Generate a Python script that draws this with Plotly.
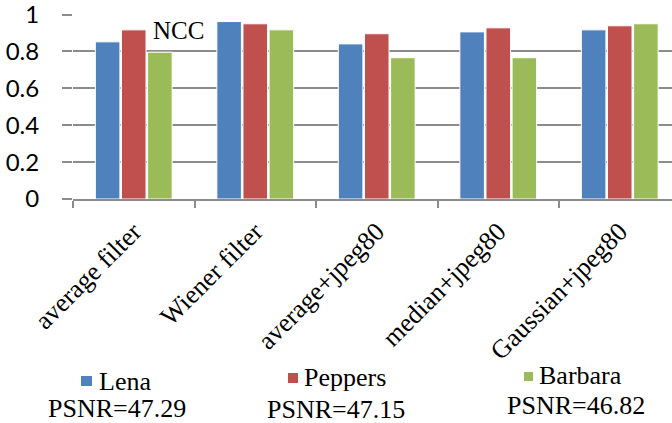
import plotly.graph_objects as go

categories = ["average filter", "Wiener filter", "average+jpeg80", "median+jpeg80", "Gaussian+jpeg80"]
series_names = ["Lena", "Peppers", "Barbara"]
psnr_labels = ["PSNR=47.29", "PSNR=47.15", "PSNR=46.82"]
lena = [0.852, 0.962, 0.841, 0.906, 0.917]
peppers = [0.917, 0.950, 0.896, 0.928, 0.939]
barbara = [0.796, 0.917, 0.766, 0.766, 0.950]
colors = ["#4F81BD", "#C0504D", "#9BBB59"]
y_ticks = [0, 0.2, 0.4, 0.6, 0.8, 1.0]
y_ticktext = ["0", "0.2", "0.4", "0.6", "0.8", "1"]

W, H = 672, 423
L, R, T, B = 73, 0, 14, 224
pw, ph = W - L - R, H - T - B

def px(x):
    return (x - L) / pw

def py(y):
    return (H - B - y) / ph

fig = go.Figure()
for name, vals, col in zip(series_names, [lena, peppers, barbara], colors):
    fig.add_trace(go.Bar(x=categories, y=vals, name=name,
                         marker=dict(color=col, line=dict(color="white", width=1))))

grid = "#8c8c8c"
serif = "Liberation Serif, Times New Roman, serif"
fig.update_layout(
    width=W, height=H,
    margin=dict(l=L, r=R, t=T, b=B, pad=0, autoexpand=False),
    paper_bgcolor="white", plot_bgcolor="white",
    barmode="group", bargap=0.355, bargroupgap=0.06,
    showlegend=False,
    xaxis=dict(type="category", range=[-0.5, 4.43], tickangle=-45, automargin=False,
               tickson="boundaries", ticks="outside", ticklen=7, tickcolor=grid, tickwidth=2,
               showline=True, linecolor=grid, linewidth=2, showgrid=False,
               ticklabelstandoff=5, ticklabeloverflow="allow",
               tickfont=dict(family=serif, size=26, color="black")),
    yaxis=dict(range=[0, 1.003], tickvals=y_ticks, ticktext=y_ticktext, automargin=False,
               ticks="outside", ticklen=10, tickcolor=grid, tickwidth=2,
               showgrid=True, gridcolor=grid, gridwidth=2, zeroline=False, showline=False,
               ticklabelstandoff=18, ticklabeloverflow="allow",
               tickfont=dict(family="Lato, Carlito, sans-serif", size=24, color="black")),
)

annotations = [dict(text="NCC", xref="paper", yref="paper", x=px(178), y=py(31),
                    xanchor="center", yanchor="middle", showarrow=False,
                    font=dict(family=serif, size=25, color="black"))]
shapes = []
# legend blocks: square left/right/top/bottom, name text left x, name cap-mid y, psnr center x, psnr mid y
legend_pos = [
    (81, 92, 376, 386, 97, 381, 117, 408),
    (288, 298, 373, 383, 302, 377, 335.5, 409),
    (524, 533, 372, 381, 537, 375, 575.5, 406),
]
for (x0, x1, y0, y1, tx, ty, cx, cy), name, psnr, col in zip(legend_pos, series_names, psnr_labels, colors):
    shapes.append(dict(type="rect", xref="paper", yref="paper", x0=px(x0), x1=px(x1),
                       y0=py(y1), y1=py(y0), fillcolor=col, line=dict(width=0)))
    annotations.append(dict(text=name, xref="paper", yref="paper", x=px(tx), y=py(ty),
                            xanchor="left", yanchor="middle", showarrow=False,
                            font=dict(family=serif, size=26, color="black")))
    annotations.append(dict(text=psnr, xref="paper", yref="paper", x=px(cx), y=py(cy),
                            xanchor="center", yanchor="middle", showarrow=False,
                            font=dict(family=serif, size=26, color="black")))

fig.update_layout(annotations=annotations, shapes=shapes)
fig.write_html("out.html", config={"displayModeBar": False},
               post_script="document.body.style.margin='0px';document.body.style.padding='0px';")
